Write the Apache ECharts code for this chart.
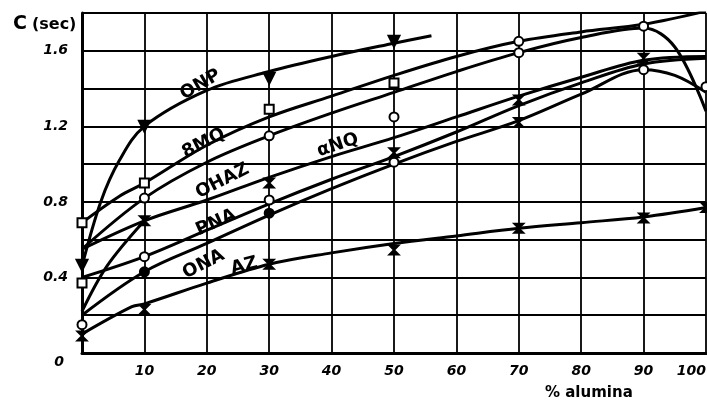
<!DOCTYPE html>
<html><head><meta charset="utf-8">
<script src="https://cdn.jsdelivr.net/npm/echarts@6/dist/echarts.min.js"></script>
<style>html,body{margin:0;padding:0;background:#fff}#c{width:707px;height:402px}</style>
</head><body><div id="c"></div>
<script>
// ---- data (x = % alumina, y = C in sec) ----
const xTickLabels = ['', '10', '20', '30', '40', '50', '60', '70', '80', '90', '100'];
const yTickLabels = ['0', '0.4', '0.8', '1.2', '1.6'];

const onpLine  = [[0,0.46],[3,0.80],[6,1.02],[10,1.20],[20,1.39],[30,1.49],[40,1.57],[50,1.64],[56,1.68]];
const mq8Line  = [[0,0.69],[6,0.83],[10,0.90],[20,1.10],[30,1.25],[40,1.36],[50,1.47],[60,1.57],[70,1.65],[80,1.70],[90,1.74],[100,1.81]];
const ohazLine = [[0,0.55],[10,0.82],[20,1.01],[30,1.15],[40,1.27],[50,1.38],[60,1.49],[70,1.59],[80,1.67],[90,1.72],[95,1.62],[100,1.28]];
const anqLine  = [[0,0.55],[10,0.70],[20,0.81],[30,0.93],[40,1.04],[50,1.14],[60,1.25],[70,1.36],[80,1.46],[90,1.55],[100,1.57]];
const steepLine= [[0,0.22],[4,0.46],[10,0.70]];
const pnaLine  = [[0,0.40],[10,0.51],[20,0.65],[30,0.79],[40,0.92],[50,1.04],[60,1.17],[70,1.31],[80,1.43],[90,1.53],[100,1.56]];
const onaLine  = [[0,0.20],[10,0.43],[20,0.58],[30,0.73],[40,0.87],[50,1.00],[60,1.12],[70,1.23],[80,1.37],[90,1.50],[95,1.47],[100,1.38]];
const azLine   = [[0,0.10],[8,0.245],[10,0.26],[20,0.37],[30,0.47],[40,0.53],[50,0.58],[60,0.62],[70,0.66],[80,0.69],[90,0.72],[100,0.77]];

const triDownPts = [[0,0.465],[10,1.20],[30,1.455],[50,1.65]];
const squarePts  = [[0,0.69],[10,0.90],[30,1.29],[50,1.43],[0,0.37]];
const circlePts  = [[0,0.15],[10,0.82],[30,1.15],[50,1.25],[10,0.51],[30,0.81],[50,1.01],[70,1.65],[70,1.59],[90,1.73],[90,1.50],[100,1.81],[100,1.41]];
const dotPts     = [[10,0.43],[30,0.74]];
const crossPts   = [[0,0.09],[10,0.23],[30,0.47],[50,0.545],[70,0.66],[90,0.715],[100,0.77],[30,0.90],[50,1.06],[70,1.34],[10,0.70],[70,1.22],[90,1.56]];

const curveNames  = ['ONP', '8MQ', 'OHAZ', '\u03B1NQ', 'PNA', 'ONA', 'AZ'];
const labelPos    = [[19,1.42],[19.5,1.11],[22.5,0.91],[41,1.10],[21.5,0.69],[19.5,0.47],[26,0.46]];
const labelAngle  = [30, 27, 27, 18, 24, 27, 14];

// ---- chart ----
const chart = echarts.init(document.getElementById('c'), null, {renderer: 'canvas'});
const lineStyle = {color: '#000', width: 3, opacity: 1};
function lineSeries(d) {
  return {type: 'line', data: d, smooth: 0.35, symbol: 'none', lineStyle: lineStyle, z: 3, silent: true};
}
function ptSeries(d, symbol, size, filled, rot) {
  return {type: 'scatter', data: d, symbol: symbol, symbolSize: size, symbolRotate: rot || 0, z: 4, silent: true,
    itemStyle: {color: filled ? '#000' : '#fff', borderColor: '#000', borderWidth: 2, opacity: 1}};
}
const crossPath = 'path://M0,0 L10,0 L0,10 L10,10 Z';
const labelFont = {color: '#000', fontFamily: 'DejaVu Sans', fontWeight: 'bold', fontSize: 18,
  textBorderWidth: 0, opacity: 1};
const labelData = curveNames.map((n, i) => ({
  name: n, value: labelPos[i], label: Object.assign({rotate: labelAngle[i]}, labelFont)
}));

chart.setOption({
  animation: false,
  backgroundColor: '#fff',
  title: [
    {text: '{c|C} {s|(sec)}', left: 8, top: 10,
     textStyle: {rich: {
       c: {fontFamily: 'DejaVu Sans', fontWeight: 'bold', fontSize: 19, color: '#000'},
       s: {fontFamily: 'DejaVu Sans', fontWeight: 'bold', fontSize: 16, color: '#000'}}}},
    {text: '% alumina', left: 540, top: 381,
     textStyle: {fontFamily: 'DejaVu Sans', fontWeight: 'bold', fontSize: 15, color: '#000'}}
  ],
  grid: {left: 82, right: 1, top: 13, bottom: 49, containLabel: false, outerBoundsMode: 'none'},
  xAxis: {
    type: 'value', min: 0, max: 100, interval: 10,
    axisLine: {show: true, lineStyle: {color: '#000', width: 3}},
    axisTick: {show: false},
    splitLine: {show: true, lineStyle: {color: '#000', width: 1.8}},
    axisLabel: {
      margin: 11, color: '#000', fontFamily: 'DejaVu Sans', fontStyle: 'italic', fontWeight: 'bold', fontSize: 14,
      showMaxLabel: true, alignMaxLabel: 'right',
      formatter: v => xTickLabels[Math.round(v / 10)] || ''
    }
  },
  yAxis: {
    type: 'value', min: 0, max: 1.8, interval: 0.2,
    axisLine: {show: true, lineStyle: {color: '#000', width: 3}},
    axisTick: {show: false},
    splitLine: {show: true, lineStyle: {color: '#000', width: 2}},
    axisLabel: {
      margin: 14, color: '#000', fontFamily: 'DejaVu Sans', fontStyle: 'italic', fontWeight: 'bold', fontSize: 14,
      formatter: v => {
        const k = Math.round(v / 0.4 * 1000) / 1000;
        if (Math.abs(k - Math.round(k)) > 1e-6) return '';
        const s = yTickLabels[Math.round(k)] || '';
        return Math.round(k) === 0 ? '{z|' + s + '}' : s;
      },
      rich: {z: {padding: [18, 4, 0, 0], color: '#000', fontFamily: 'DejaVu Sans', fontStyle: 'italic', fontWeight: 'bold', fontSize: 14}}
    }
  },
  series: [
    lineSeries(onpLine), lineSeries(mq8Line), lineSeries(ohazLine), lineSeries(anqLine),
    lineSeries(steepLine), lineSeries(pnaLine), lineSeries(onaLine), lineSeries(azLine),
    ptSeries(triDownPts, 'triangle', 11, true, 180),
    ptSeries(squarePts, 'rect', 9, false),
    ptSeries(circlePts, 'circle', 9, false),
    ptSeries(dotPts, 'circle', 9, true),
    ptSeries(crossPts, crossPath, 9, true),
    {type: 'scatter', data: labelData, symbolSize: 0, z: 5, silent: true,
     itemStyle: {opacity: 1},
     label: Object.assign({show: true, position: 'inside', formatter: '{b}'}, labelFont)}
  ]
});
</script></body></html>
